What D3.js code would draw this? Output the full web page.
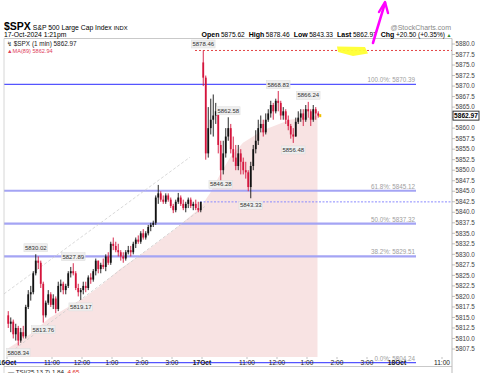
<!DOCTYPE html>
<html><head><meta charset="utf-8">
<script src="https://cdn.jsdelivr.net/npm/d3@7/dist/d3.min.js"></script>
<style>body{margin:0;background:#fff}svg{display:block}text{font-family:"Liberation Sans",Arial,sans-serif}</style>
</head><body><svg id="c" width="480" height="373"></svg>
<script>
// ---------- data (5-minute bars) ----------
const day1Open = 5815.5;
const day1High = [5816.5,5815,5814.5,5813.5,5813,5812.5,5813,5818,5821.5,5822.5,5826,5830.02,5829.5,5828.5,5823.5,5819,5821.5,5821,5820.5,5820,
5823.5,5824,5823.5,5823,5826,5827,5827.89,5826,5823,5822,5823.5,5823.5,5825,5825.5,5826.5,5829,5828.5,5828,5829,5830,
5830.5,5833,5834,5833,5832.5,5831,5830.5,5831,5832,5832,5833,5834,5834.5,5835.5,5836,5835.5,5837,5837.5,5838,5844,
5846.5,5845,5844,5844.5,5844.5,5843.5,5842,5843,5844.6,5844,5843,5842.5,5843.5,5843.5,5842.5,5843,5842.5,5842.5];
const day1Low = [5812.5,5811.5,5810,5809.5,5808.34,5809,5810,5810,5817,5819,5820.5,5825,5826.5,5822,5813.76,5815,5818,5817.5,5817,5816,
5816.5,5821,5820.5,5820.5,5822,5824.5,5825,5821.5,5820,5819.17,5820.5,5821,5821.5,5823,5823.5,5825,5825.5,5825.5,5826.5,5826,
5827.5,5827.5,5831,5830.5,5829.5,5828.5,5828,5828.5,5830,5829.5,5830,5831.5,5832.5,5832.5,5833.5,5833.5,5834.5,5835.5,5836.5,5837,
5842,5842.5,5842,5842,5842.5,5841,5839.8,5840,5842,5841.5,5840.5,5840,5841,5841,5840.5,5840.5,5840,5840];
const day1Close = [5813.5,5814,5811,5812.5,5809.5,5811.5,5810.5,5817.5,5820.5,5821,5825.5,5828.5,5828,5823,5815.5,5818.5,5820.5,5818,5819.5,5817,
5822.5,5823,5821.5,5822.5,5825.5,5826,5825.5,5822,5821,5821.5,5822.5,5822,5824.5,5824,5826,5828.5,5826.5,5827.5,5827,5829.5,
5828,5832.5,5832,5831,5830.5,5829.5,5829,5830.5,5831,5830.5,5832.5,5833.5,5833,5835,5834,5835,5836.5,5837,5837.5,5843.5,
5844.5,5843,5842.5,5844,5843,5841.5,5840.5,5842.5,5843.5,5842,5841,5842,5843,5841.5,5842,5841,5840.5,5842.47];

const day2Open = 5875.62;
const day2High = [5878.46,5872.5,5865,5867,5868,5866,5864.5,5857,5857,5860,5862.58,5861,5858,5856,5856,5855,5853,5852,5850,5852,
5856,5859.5,5862,5863,5862,5863.5,5864.5,5866.5,5866,5867,5868.83,5866.5,5865,5864.5,5863,5861,5860,5862.5,5864,5864.5,
5864.5,5865.5,5866.24,5864.5,5865.5,5865,5864];
const day2Low = [5870,5852.5,5853,5858.5,5858,5861,5854,5846.28,5849,5853,5857,5854,5852,5850,5850,5849,5849,5848,5845,5843.33,
5850,5854,5856,5859,5858,5858.5,5861.5,5862.5,5862,5863.5,5864,5862,5862,5861,5859.5,5857.5,5856.48,5858,5861,5861.5,
5860.5,5861.5,5862.5,5860.5,5861.5,5862,5862.5];
const day2Close = [5872,5854,5860,5862,5863,5864,5856,5850,5854,5858,5860,5855,5853,5851,5854,5852,5850,5849.5,5846,5851,
5855,5857,5860,5861,5859,5862,5863.5,5865.5,5864,5866.5,5866,5863,5864,5862,5860.5,5858.5,5858,5861.5,5862.5,5863.5,
5862,5864.5,5864,5862,5864.5,5863.5,5862.97];

// MA(89) read at sample minutes (minutes since 16 Oct 9:30, session time)
const maMinutes = [0,46,86,152,186,226,286,336,386,406,426,446,472,512,566,621];
const maValues  = [5807.5,5811,5815,5819.5,5822.5,5826.5,5831.5,5836,5841,5844.5,5849,5853,5856.5,5859.5,5862,5862.94];

const pivotHighs = [5878.46,5862.58,5868.83,5866.24,5830.02,5827.89];
const pivotLows  = [5856.48,5846.28,5843.33,5819.17,5813.76,5808.34];

const fibNames  = ["100.0%","61.8%","50.0%","38.2%","0.0%"];
const fibValues = [5870.39,5845.12,5837.32,5829.51,5804.24];

const prevClose = 5842.47, dayHigh = 5878.46, lastPrice = 5862.97;

const yTicks = d3.range(5807.5, 5880.01, 2.5);
const timeTickMinutes = [0,90,150,210,270,330,390,480,540,600,660,720,780,870];
const timeTickLabels  = ["16Oct","11:00","12:00","1:00","2:00","3:00","17Oct","11:00","12:00","1:00","2:00","3:00","18Oct","11:00"];

// trendlines (minute, price)
const trend1 = [[-6,5820.6],[366,5853.1]];
const trend2 = [[0,5806.1],[396,5841.4]];

// ---------- build ----------
const svg = d3.select("#c");
const L=4, R=452, T=38.5, B=357;
const y = d3.scaleLinear().domain([5807.5,5880]).range([349,44]);
const x = d3.scaleLinear().domain([0,780]).range([7,397]);

function bars(open, hi, lo, cl, day){
  return cl.map((c,i)=>({m: day*390 + i*5 + 2.5, o: i===0?open:cl[i-1], h: hi[i], l: lo[i], c}));
}
const data = bars(day1Open,day1High,day1Low,day1Close,0).concat(bars(day2Open,day2High,day2Low,day2Close,1));

svg.append("defs").append("clipPath").attr("id","pc").append("rect")
  .attr("x",L).attr("y",T).attr("width",R-L).attr("height",366-T);

const g = svg.append("g").attr("clip-path","url(#pc)");

// MA area
const area = d3.area().x((d,i)=>x(maMinutes[i])).y0(B).y1(d=>y(d));
g.append("path").datum(maValues).attr("d",area).attr("fill","#f8e3e3");

// fib lines
fibValues.forEach((v,i)=>{
  const main = (i===0||i===4);
  g.append("line").attr("x1",L).attr("x2",416).attr("y1",y(v)).attr("y2",y(v))
    .attr("stroke", main ? "#5555ff" : "#a4a4f4").attr("stroke-width", main?1.3:2.2);
  g.append("text").attr("x",415).attr("y",y(v)-2).attr("text-anchor","end")
    .attr("font-size",6.3).attr("fill","#a0a0a0").text(fibNames[i]+": "+v.toFixed(2));
});

// trendlines
[trend1,trend2].forEach(t=>{
  g.append("line").attr("x1",x(t[0][0])).attr("y1",y(t[0][1])).attr("x2",x(t[1][0])).attr("y2",y(t[1][1]))
    .attr("stroke","#cfcfcf").attr("stroke-width",0.8).attr("stroke-dasharray","3,2");
});

// horizontal reference lines
g.append("line").attr("x1",x(376)).attr("x2",R).attr("y1",y(dayHigh)).attr("y2",y(dayHigh))
  .attr("stroke","#e03030").attr("stroke-width",0.9).attr("stroke-dasharray","2,2");
g.append("line").attr("x1",x(386)).attr("x2",R).attr("y1",y(prevClose)).attr("y2",y(prevClose))
  .attr("stroke","#8a8aff").attr("stroke-width",1).attr("stroke-dasharray","2,1.5");

// candles
const cg = g.append("g");
data.forEach(d=>{
  const up = d.c >= d.o;
  const col = up ? "#111" : "#d4143c";
  cg.append("line").attr("x1",x(d.m)).attr("x2",x(d.m)).attr("y1",y(d.h)).attr("y2",y(d.l))
    .attr("stroke",col).attr("stroke-width",0.9);
  const top = y(Math.max(d.o,d.c)), bot = y(Math.min(d.o,d.c));
  cg.append("rect").attr("x",x(d.m)-0.9).attr("width",1.8).attr("y",top).attr("height",Math.max(0.8,bot-top))
    .attr("fill",col);
});
// last bar marker
const lastBar = data[data.length-1];
g.append("rect").attr("x",x(lastBar.m)+1).attr("y",y(lastPrice)-1.5).attr("width",2).attr("height",3).attr("fill","#f0c000");

// pivot labels
function pivotLabel(v, isHigh){
  const d = data.find(b => isHigh ? b.h===v : b.l===v);
  if(!d) return;
  let cy = isHigh ? y(v)-6.5 : y(v)+7;
  if(v===5846.28) cy = y(v)-1.5;
  const t = v.toFixed(2);
  const w = t.length*2.95+3;
  g.append("rect").attr("x",x(d.m)-w/2).attr("y",cy-4).attr("width",w).attr("height",8)
    .attr("fill","#efefef").attr("stroke","#dcdcdc").attr("stroke-width",0.5);
  g.append("text").attr("x",x(d.m)).attr("y",cy+2.1).attr("text-anchor","middle")
    .attr("font-size",6).attr("fill","#333").text(t);
}
pivotHighs.forEach(v=>pivotLabel(v,true));
pivotLows.forEach(v=>pivotLabel(v,false));

// frame
svg.append("line").attr("x1",L).attr("x2",R).attr("y1",T).attr("y2",T).attr("stroke","#bbb").attr("stroke-width",0.8);
svg.append("line").attr("x1",L).attr("x2",L).attr("y1",T).attr("y2",373).attr("stroke","#ccc").attr("stroke-width",0.8);
svg.append("line").attr("x1",R).attr("x2",R).attr("y1",T).attr("y2",373).attr("stroke","#aaa").attr("stroke-width",0.8);
svg.append("line").attr("x1",L).attr("x2",R).attr("y1",366.5).attr("y2",366.5).attr("stroke","#bbb").attr("stroke-width",0.8);

// y axis
const ya = svg.append("g");
yTicks.forEach(v=>{
  ya.append("line").attr("x1",R).attr("x2",R+3).attr("y1",y(v)).attr("y2",y(v)).attr("stroke","#999").attr("stroke-width",0.6);
  if (Math.abs(y(v)-y(lastPrice)) < 6) return; // hidden under the last-price box
  ya.append("text").attr("x",R+3.5).attr("y",y(v)+2.2).attr("font-size",6.3).attr("fill","#444").text(v.toFixed(1));
});
ya.append("rect").attr("x",R+1).attr("y",y(lastPrice)-4.5).attr("width",26).attr("height",9)
  .attr("fill","#fff").attr("stroke","#222").attr("stroke-width",0.9);
ya.append("text").attr("x",R+14).attr("y",y(lastPrice)+2.4).attr("text-anchor","middle")
  .attr("font-size",6.6).attr("font-weight","bold").attr("fill","#000").text(lastPrice.toFixed(2));

// x axis
timeTickMinutes.forEach((m,i)=>{
  const isDay = /Oct/.test(timeTickLabels[i]);
  svg.append("line").attr("x1",x(m)).attr("x2",x(m)).attr("y1",B).attr("y2",B+2).attr("stroke","#999").attr("stroke-width",0.6);
  svg.append("text").attr("x",x(m)).attr("y",365).attr("text-anchor","middle")
    .attr("font-size",6.6).attr("font-weight",isDay?"bold":"normal").attr("fill","#222").text(timeTickLabels[i]);
});

// header
const h1 = svg.append("text").attr("x",4).attr("y",29.5);
h1.append("tspan").attr("font-size",10.5).attr("font-weight","bold").text("$SPX");
h1.append("tspan").attr("font-size",6.8).attr("dx",2).text("S&P 500 Large Cap Index");
h1.append("tspan").attr("font-size",5.8).attr("dx",2).text("INDX");
svg.append("text").attr("x",4).attr("y",37).attr("font-size",6.8).text("17-Oct-2024 1:21pm");
svg.append("text").attr("x",451).attr("y",29.5).attr("text-anchor","end").attr("font-size",7).attr("fill","#888").text("@StockCharts.com");

const hdr = svg.append("text").attr("x",445).attr("y",37).attr("text-anchor","end").attr("font-size",6.6);
[["Open","5875.62"],["High","5878.46"],["Low","5843.33"],["Last","5862.97"],["Chg","+20.50 (+0.35%)"]].forEach((p,i)=>{
  hdr.append("tspan").attr("font-weight","bold").attr("font-size",7).attr("dx",i?4:0).text(p[0]);
  hdr.append("tspan").attr("dx",1.5).text(p[1]);
});
svg.append("text").attr("x",446.5).attr("y",37).attr("font-size",5).attr("fill","#2a8a2a").text("▲");

// legend inside plot
svg.append("text").attr("x",7).attr("y",45.5).attr("font-family","DejaVu Sans Mono,monospace").attr("font-size",6.4)
  .attr("fill","#222").text("↯ $SPX (1 min) 5862.97");
svg.append("text").attr("x",7).attr("y",53).attr("font-size",5.6).attr("fill","#e0405a").text("▲MA(89) 5862.94");

// TSI panel label
const tsi = svg.append("text").attr("x",8).attr("y",373.5).attr("font-family","DejaVu Sans Mono,monospace").attr("font-size",6.2).attr("fill","#222");
tsi.append("tspan").text("— TSI(25,13,7) 1.84, ");
tsi.append("tspan").attr("fill","#e02020").text("4.65");

// hand annotations
svg.append("path").attr("d","M337,46.5 L365,47 L368,53.5 L353,56 L338,52 Z").attr("fill","#ffff30").attr("opacity",0.95);
svg.append("path").attr("d","M373,43 C376,32 380,20 385,3").attr("fill","none").attr("stroke","#ff00ff").attr("stroke-width",2.6).attr("stroke-linecap","round");
svg.append("path").attr("d","M379,12 L385,2 L388,13").attr("fill","none").attr("stroke","#ff00ff").attr("stroke-width",2.4).attr("stroke-linecap","round").attr("stroke-linejoin","round");
</script></body></html>
